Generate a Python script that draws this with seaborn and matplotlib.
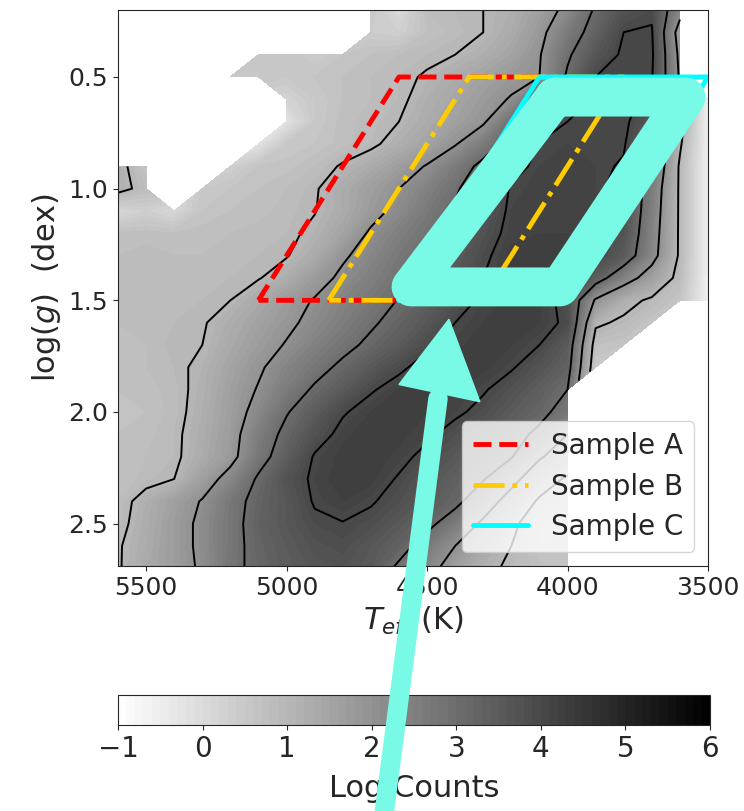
import numpy as np
import matplotlib
matplotlib.use("Agg")
import matplotlib.pyplot as plt
import seaborn as sns

N = np.nan

# grid of the 2D histogram (cell centres)
teff_grid = [5600, 5500, 5400, 5300, 5200, 5100, 5000, 4900, 4800, 4700, 4600,
             4500, 4400, 4300, 4200, 4100, 4000, 3900, 3800, 3700, 3600, 3500]
logg_grid = [0.2, 0.3, 0.4, 0.5, 0.6, 0.7, 0.8, 0.9, 1.0, 1.1, 1.2, 1.3, 1.4,
             1.5, 1.6, 1.7, 1.8, 1.9, 2.0, 2.1, 2.2, 2.3, 2.4, 2.5, 2.6, 2.7]

# log10 counts, one row per logg value
log_counts = [
    [N, N, N, N, N, N, N, N, N, 0.5, 0.0, 0.8, 0.9, 1.0, 1.2, 1.6, 2.2, 3.1, 3.7, 3.9, 2.3, N],
    [N, N, N, N, N, N, N, N, N, 0.4, 0.3, 0.7, 0.85, 1.0, 1.3, 1.8, 2.6, 3.3, 4.0, 4.05, 1.6, N],
    [N, N, N, N, N, 0.5, 0.6, 0.4, 0.6, 0.7, 0.8, 0.9, 1.0, 1.2, 1.5, 1.95, 2.9, 3.6, 4.1, 4.1, 1.8, N],
    [N, N, N, N, 0.5, 0.6, 0.5, 0.6, 0.7, 0.8, 0.9, 1.05, 1.3, 1.55, 1.8, 2.0, 3.1, 4.0, 4.1, 4.05, 1.9, N],
    [N, N, N, N, N, N, 0.2, 0.5, 0.7, 0.8, 0.9, 1.2, 1.45, 1.75, 2.05, 3.0, 3.8, 4.05, 4.1, 3.9, 1.5, -0.6],
    [N, N, N, N, N, N, -0.2, 0.5, 0.75, 0.85, 1.0, 1.3, 1.6, 1.9, 2.9, 3.4, 4.0, 4.1, 4.1, 3.6, 1.3, -0.6],
    [N, N, N, N, N, -0.2, 0.5, 0.6, 0.75, 0.9, 1.2, 1.5, 1.95, 2.6, 3.35, 4.05, 4.1, 4.1, 4.05, 3.2, 1.1, -0.6],
    [1.2, 0.6, N, N, 0.3, 0.6, 0.65, 0.8, 1.05, 1.3, 1.65, 2.05, 2.6, 3.2, 3.85, 4.1, 4.15, 4.1, 3.95, 2.9, 0.9, -0.6],
    [1.2, 0.8, N, 0.5, 0.6, 0.7, 0.8, 0.95, 1.3, 1.65, 2.0, 2.45, 2.9, 3.5, 4.05, 4.15, 4.15, 4.1, 3.8, 2.6, 0.9, -0.6],
    [0.1, 0.3, 0.1, 0.6, 0.7, 0.75, 0.85, 0.98, 1.3, 1.75, 2.2, 2.65, 3.1, 3.6, 4.1, 4.15, 4.15, 4.1, 3.8, 2.5, 0.9, -0.6],
    [0.7, 0.75, 0.7, 0.75, 0.8, 0.85, 0.9, 1.1, 1.5, 2.1, 2.5, 2.85, 3.25, 3.75, 4.15, 4.2, 4.2, 4.05, 3.7, 2.4, 0.9, -0.6],
    [0.8, 0.85, 0.8, 0.8, 0.85, 0.9, 0.97, 1.3, 1.9, 2.3, 2.7, 3.05, 3.45, 3.9, 4.25, 4.3, 4.25, 4.0, 3.5, 2.3, 0.9, -0.6],
    [0.8, 0.85, 0.85, 0.9, 0.9, 0.97, 1.25, 1.7, 2.15, 2.5, 2.85, 3.2, 3.6, 4.0, 4.25, 4.3, 4.1, 3.4, 2.4, 1.6, 0.8, -0.6],
    [0.8, 0.85, 0.9, 0.9, 1.0, 1.35, 1.7, 2.05, 2.4, 2.7, 3.03, 3.4, 3.75, 4.1, 4.25, 4.25, 3.8, 1.9, 1.2, 0.9, 0.6, -0.6],
    [0.8, 0.85, 0.9, 0.95, 1.25, 1.55, 1.85, 2.2, 2.55, 2.9, 3.25, 3.6, 4.0, 4.2, 4.3, 4.2, 3.9, 1.1, 0.9, 0.6, N, N],
    [0.75, 0.8, 0.95, 1.0, 1.35, 1.7, 2.05, 2.45, 2.8, 3.15, 3.5, 3.9, 4.15, 4.3, 4.2, 4.0, 3.5, 0.7, 0.6, N, N, N],
    [0.75, 0.8, 0.9, 1.1, 1.5, 1.9, 2.35, 2.75, 3.15, 3.55, 3.9, 4.2, 4.3, 4.25, 4.05, 3.7, 3.3, 0.5, N, N, N, N],
    [0.7, 0.75, 0.85, 1.15, 1.6, 2.05, 2.6, 3.1, 3.5, 3.95, 4.2, 4.3, 4.2, 4.05, 3.75, 3.4, 3.0, N, N, N, N, N],
    [0.65, 0.7, 0.85, 1.2, 1.65, 2.25, 2.95, 3.45, 3.95, 4.2, 4.3, 4.2, 4.1, 3.85, 3.5, 3.2, 2.7, N, N, N, N, N],
    [0.7, 0.75, 0.9, 1.25, 1.7, 2.55, 3.2, 3.75, 4.15, 4.3, 4.25, 4.1, 3.8, 3.5, 3.25, 2.85, 2.0, N, N, N, N, N],
    [0.75, 0.8, 0.9, 1.3, 1.75, 2.7, 3.4, 4.05, 4.25, 4.3, 4.15, 3.85, 3.55, 3.3, 3.05, 2.1, 1.5, N, N, N, N, N],
    [0.7, 0.85, 1.0, 1.6, 2.3, 3.1, 3.7, 4.1, 4.3, 4.25, 3.95, 3.65, 3.35, 3.05, 2.3, 1.4, 0.9, N, N, N, N, N],
    [0.8, 1.2, 1.6, 2.05, 2.7, 3.25, 3.6, 4.05, 4.2, 4.05, 3.8, 3.5, 3.2, 2.5, 1.6, 0.9, 0.7, N, N, N, N, N],
    [0.85, 1.25, 1.7, 2.15, 2.75, 3.3, 3.6, 3.9, 3.98, 3.85, 3.55, 3.2, 2.6, 1.85, 1.15, 0.6, 0.5, N, N, N, N, N],
    [0.95, 1.3, 1.7, 2.15, 2.75, 3.25, 3.5, 3.75, 3.85, 3.6, 3.3, 2.65, 2.0, 1.4, 1.0, 0.6, 0.7, N, N, N, N, N],
    [0.95, 1.35, 1.7, 2.1, 2.8, 3.2, 3.45, 3.65, 3.7, 3.5, 2.85, 2.3, 1.6, 1.15, 0.9, 0.75, 0.6, N, N, N, N, N],
]

contour_levels = [1, 2, 3, 4]

# sample selection boxes (Teff, logg corners)
sample_a_teff = [5100, 4600, 4100, 4600, 5100]
sample_a_logg = [1.5, 0.5, 0.5, 1.5, 1.5]
sample_b_teff = [4850, 4350, 3800, 4300, 4850]
sample_b_logg = [1.5, 0.5, 0.5, 1.5, 1.5]
sample_c_teff = [4600, 4100, 3500, 4000, 4600]
sample_c_logg = [1.5, 0.5, 0.5, 1.5, 1.5]

# hand-drawn highlight on top of the figure
loop_teff = [4045, 3578, 4027, 4557, 4045]
loop_logg = [0.59, 0.59, 1.44, 1.44, 0.59]
head_teff = [4422, 4600, 4312]
head_logg = [1.585, 1.877, 1.954]
shaft_teff = [4461, 4653]
shaft_logg = [1.94, 3.80]

sns.set_style("ticks")
plt.rcParams["font.family"] = ["DejaVu Sans"]
plt.rcParams["mathtext.fontset"] = "dejavusans"

fig = plt.figure(figsize=(7.44, 8.11), dpi=100)
ax = fig.add_axes([0.1586, 0.302, 0.7930, 0.6857])
cax = fig.add_axes([0.1586, 0.106, 0.7957, 0.037])

tt, gg = np.meshgrid(teff_grid, logg_grid)
zz = np.ma.masked_invalid(np.array(log_counts, dtype=float))

cf = ax.contourf(tt, gg, zz, levels=np.linspace(-1, 6, 71), cmap="gray_r",
                 vmin=-1, vmax=6, zorder=1)
ax.contour(tt, gg, zz, levels=contour_levels, colors="k", linewidths=1.4, zorder=2)

sns.lineplot(x=sample_a_teff, y=sample_a_logg, sort=False, estimator=None, ax=ax,
             color="red", linestyle="--", lw=3.5, label="Sample A", zorder=3)
sns.lineplot(x=sample_b_teff, y=sample_b_logg, sort=False, estimator=None, ax=ax,
             color="#FFCC00", linestyle="-.", lw=3.5, label="Sample B", zorder=3)
sns.lineplot(x=sample_c_teff, y=sample_c_logg, sort=False, estimator=None, ax=ax,
             color="cyan", linestyle="-", lw=3.5, label="Sample C", zorder=3)

ax.set_xlim(5600, 3500)
ax.set_ylim(2.69, 0.2)
ax.set_xticks([5500, 5000, 4500, 4000, 3500])
ax.set_yticks([0.5, 1.0, 1.5, 2.0, 2.5])
ax.tick_params(labelsize=18)
ax.set_xlabel(r"$T_{eff}$ (K)", fontsize=22)
ax.set_ylabel(r"$\log(g)$  (dex)", fontsize=22)
ax.legend(loc="lower right", fontsize=20, labelspacing=0.45)

cb = fig.colorbar(cf, cax=cax, orientation="horizontal", ticks=range(-1, 7))
cb.ax.tick_params(labelsize=20)
cb.set_label("Log Counts", fontsize=22, labelpad=8)

# highlight strokes
hl = "#78FAE6"
ax.set_zorder(5)
ax.plot(loop_teff, loop_logg, color=hl, lw=28, solid_joinstyle="round",
        solid_capstyle="round", zorder=10)
ax.plot(shaft_teff, shaft_logg, color=hl, lw=14, clip_on=False, zorder=10)
ax.fill(head_teff, head_logg, color=hl, clip_on=False, zorder=10)

fig.savefig("out.png", dpi=100)
